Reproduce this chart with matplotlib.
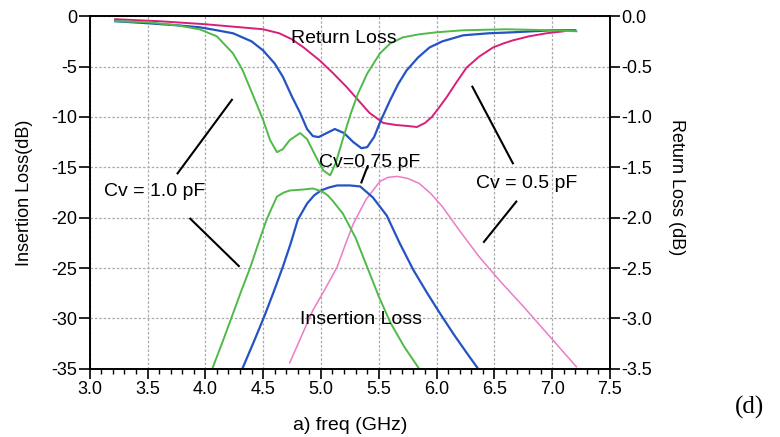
import matplotlib
matplotlib.use("Agg")
import matplotlib.pyplot as plt
from matplotlib.ticker import MultipleLocator, FormatStrFormatter

plt.rcParams["font.family"] = ["Liberation Sans", "DejaVu Sans"]
plt.rcParams["axes.unicode_minus"] = False

# return loss curves (top, dips)
rl_green_x = [3.22, 3.5, 3.75, 3.95, 4.1, 4.24, 4.32, 4.4, 4.5, 4.56, 4.62, 4.67, 4.73, 4.82, 4.88,
              4.95, 5.02, 5.08, 5.13, 5.2, 5.26, 5.32, 5.4, 5.51, 5.6, 5.71, 5.85, 6.0, 6.23, 6.6, 7.0, 7.21]
rl_green_y = [-0.5, -0.6, -0.9, -1.3, -2.0, -3.7, -5.3, -7.5, -10.3, -12.3, -13.5, -13.2, -12.3, -11.6, -12.2,
              -13.8, -15.3, -15.8, -14.5, -11.8, -9.6, -7.7, -5.7, -3.7, -2.7, -2.1, -1.8, -1.6, -1.4, -1.3, -1.4, -1.5]

rl_blue_x = [3.22, 3.5, 3.75, 3.95, 4.1, 4.24, 4.4, 4.5, 4.6, 4.67, 4.75, 4.82, 4.88, 4.93, 4.98, 5.05,
             5.12, 5.2, 5.28, 5.35, 5.4, 5.46, 5.52, 5.6, 5.67, 5.74, 5.84, 5.94, 6.05, 6.23, 6.45, 6.66, 7.0, 7.2]
rl_blue_y = [-0.5, -0.7, -0.9, -1.1, -1.4, -1.7, -2.5, -3.4, -4.7, -6.0, -8.0, -9.6, -11.2, -11.9, -12.0, -11.6,
             -11.2, -11.6, -12.5, -13.1, -13.0, -12.0, -10.3, -8.3, -6.7, -5.4, -4.1, -3.1, -2.5, -1.9, -1.7, -1.6, -1.4, -1.4]

rl_pink_x = [3.22, 3.6, 4.0, 4.3, 4.5, 4.64, 4.75, 4.85, 4.99, 5.1, 5.22, 5.32, 5.42, 5.54, 5.65, 5.75,
             5.83, 5.9, 5.96, 6.02, 6.09, 6.17, 6.26, 6.37, 6.49, 6.58, 6.66, 6.8, 6.95, 7.1]
rl_pink_y = [-0.3, -0.5, -0.8, -1.1, -1.3, -1.7, -2.3, -3.1, -4.4, -5.6, -7.0, -8.3, -9.6, -10.6, -10.8, -10.9,
             -11.0, -10.6, -10.0, -9.1, -8.0, -6.6, -5.1, -4.0, -3.1, -2.7, -2.4, -2.0, -1.7, -1.5]

# insertion loss curves (bottom, peaks)
il_green_x = [4.06, 4.15, 4.24, 4.31, 4.39, 4.46, 4.53, 4.58, 4.62, 4.68, 4.73, 4.85, 4.93, 5.01, 5.06,
              5.1, 5.19, 5.3, 5.4, 5.5, 5.6, 5.72, 5.85]
il_green_y = [-35, -32.3, -29.5, -27.3, -24.9, -22.5, -20.2, -18.9, -17.9, -17.5, -17.3, -17.2, -17.1, -17.4, -17.8,
              -18.3, -19.6, -22.0, -24.9, -27.8, -30.4, -32.8, -35]

il_blue_x = [4.32, 4.42, 4.51, 4.59, 4.67, 4.74, 4.8, 4.88, 4.94, 5.0, 5.07, 5.14, 5.25, 5.34, 5.45, 5.57,
             5.68, 5.8, 5.92, 6.03, 6.15, 6.26, 6.36]
il_blue_y = [-35, -32.3, -29.8, -27.4, -24.9, -22.5, -20.2, -18.6, -17.8, -17.3, -17.0, -16.8, -16.8, -16.9, -18.0, -19.8,
             -22.5, -25.2, -27.5, -29.5, -31.6, -33.4, -35]

il_pink_x = [4.73, 4.83, 4.93, 5.04, 5.14, 5.21, 5.28, 5.39, 5.51, 5.58, 5.66, 5.75, 5.85, 5.95, 6.05,
             6.2, 6.37, 6.55, 6.75, 6.98, 7.21]
il_pink_y = [-34.4, -31.8, -29.2, -27.0, -24.9, -22.7, -20.6, -18.2, -16.4, -16.0, -15.9, -16.1, -16.6, -17.6, -18.9,
             -21.3, -23.9, -26.3, -28.8, -31.8, -34.8]

green = "#4fba48"
blue = "#2553c2"
magenta = "#d81f78"
pink = "#ec7cc4"

fig = plt.figure(figsize=(7.8, 4.37), dpi=100)
ax = fig.add_axes([0.115, 0.156, 0.667, 0.807])

ax.plot(rl_pink_x, rl_pink_y, color=magenta, lw=1.4)
ax.plot(rl_blue_x, rl_blue_y, color=blue, lw=1.6)
ax.plot(rl_green_x, rl_green_y, color=green, lw=1.4)
ax.plot(il_pink_x, il_pink_y, color=pink, lw=1.1)
ax.plot(il_blue_x, il_blue_y, color=blue, lw=1.6)
ax.plot(il_green_x, il_green_y, color=green, lw=1.4)

ax.set_xlim(3.0, 7.5)
ax.set_ylim(-35, 0)
ax.xaxis.set_major_locator(MultipleLocator(0.5))
ax.xaxis.set_minor_locator(MultipleLocator(0.1))
ax.xaxis.set_major_formatter(FormatStrFormatter("%.1f"))
ax.yaxis.set_major_locator(MultipleLocator(5))
ax.grid(True, which="major", color="#aaaaaa", linestyle=(0, (2, 1.5)), lw=0.9)
ax.tick_params(axis="x", which="major", direction="out", length=7, width=1.2, labelsize=13, pad=2)
ax.tick_params(axis="x", which="minor", direction="out", length=3.5, width=1.0)
ax.tick_params(axis="y", which="major", direction="out", length=8, width=1.2, labelsize=13, pad=1)
for s in ax.spines.values():
    s.set_linewidth(1.2)

ax2 = ax.twinx()
ax2.set_ylim(-3.5, 0)
ax2.yaxis.set_major_locator(MultipleLocator(0.5))
ax2.yaxis.set_major_formatter(FormatStrFormatter("%.1f"))
ax2.tick_params(axis="y", direction="out", length=7, width=1.2, labelsize=13, pad=1)
for s in ax2.spines.values():
    s.set_linewidth(1.2)

# text labels
ax.text(5.2, -2.2, "Return Loss", fontsize=14, ha="center", va="center")
ax.text(5.35, -30.1, "Insertion Loss", fontsize=14, ha="center", va="center")
ax.text(3.56, -17.4, "Cv = 1.0 pF", fontsize=14, ha="center", va="center")
ax.text(5.42, -14.5, "Cv=0,75 pF", fontsize=14, ha="center", va="center")
ax.text(6.78, -16.6, "Cv = 0.5 pF", fontsize=14, ha="center", va="center")

# pointer lines
ax.plot([3.76, 4.23], [-15.6, -8.3], color="black", lw=1.5)
ax.plot([3.87, 4.29], [-20.1, -24.8], color="black", lw=1.5)
ax.plot([5.35, 5.40], [-16.5, -15.0], color="black", lw=1.5)
ax.plot([6.31, 6.66], [-7.0, -14.6], color="black", lw=1.5)
ax.plot([6.41, 6.69], [-22.4, -18.4], color="black", lw=1.5)

fig.text(25 / 780, 1 - 193 / 437, "Insertion Loss(dB)", rotation=90, fontsize=13, ha="center", va="center")
fig.text(676 / 780, 1 - 187 / 437, "Return Loss (dB)", rotation=270, fontsize=13, ha="center", va="center")
fig.text(350 / 780, 1 - 425 / 437, "a) freq (GHz)", fontsize=14, ha="center", va="center")
fig.text(750 / 780, 1 - 407 / 437, "(d)", fontsize=18, ha="center", va="center",
         family=["Liberation Serif", "DejaVu Serif"])

plt.savefig("out.png", dpi=100)
